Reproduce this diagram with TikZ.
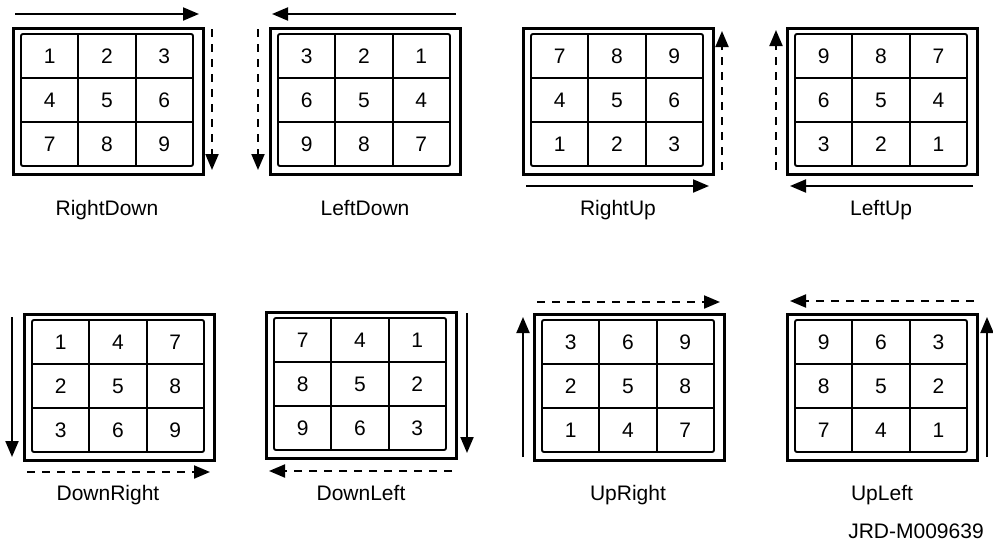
\documentclass[tikz,border=0pt]{standalone}
\usepackage{fontspec}
\setmainfont{Liberation Sans}
\usetikzlibrary{arrows.meta}
\tikzset{
  outerbox/.style={draw, line width=3pt, minimum width=190pt, minimum height=146pt, inner sep=0pt, anchor=north west},
  gridline/.style={line width=1.9pt},
  cell/.style={inner sep=0pt, font=\fontsize{21}{21}\selectfont},
  solidarrow/.style={line width=2pt, -{Triangle[length=16pt,width=13pt]}},
  dasharrow/.style={solidarrow, dash pattern=on 8pt off 7pt},
  caption/.style={anchor=base, inner sep=0pt, font=\fontsize{21}{24}\selectfont},
}
\newcommand{\gridpanel}[4]{%
  \node[outerbox] (#1) at (#2,#3) {};
  \draw[gridline, rounded corners=2pt] (#2+9,#3+7) rectangle ++(172,132);
  \draw[gridline] (#2+9+57.33,#3+7) -- ++(0,132)
                  (#2+9+114.67,#3+7) -- ++(0,132)
                  (#2+9,#3+7+44) -- ++(172,0)
                  (#2+9,#3+7+88) -- ++(172,0);
  \foreach \d [count=\k from 0] in {#4} {
    \pgfmathtruncatemacro\rr{int(\k/3)}
    \pgfmathtruncatemacro\cc{mod(\k,3)}
    \node[cell] (#1-\d) at (#2+9+28.67+57.33*\cc, #3+7+22.5+44*\rr) {\d};
  }
}
\begin{document}
\begin{tikzpicture}[x=1pt,y=-1pt]
\useasboundingbox (0,0) rectangle (993,544);
\fill[white] (0,0) rectangle (993,544);

% Row 1
\gridpanel{rd}{12}{27}{1,2,3,4,5,6,7,8,9}
\gridpanel{ld}{269}{27}{3,2,1,6,5,4,9,8,7}
\gridpanel{ru}{522}{27}{7,8,9,4,5,6,1,2,3}
\gridpanel{lu}{786}{27}{9,8,7,6,5,4,3,2,1}
% Row 2
\gridpanel{dr}{23}{313}{1,4,7,2,5,8,3,6,9}
\gridpanel{dl}{265}{311}{7,4,1,8,5,2,9,6,3}
\gridpanel{ur}{533}{313}{3,6,9,2,5,8,1,4,7}
\gridpanel{ul}{786}{313}{9,6,3,8,5,2,7,4,1}

% arrow end points
\coordinate (rd-s1) at (15,14);   \coordinate (rd-s2) at (199,14);
\coordinate (rd-d1) at (212,29);  \coordinate (rd-d2) at (212,170);
\coordinate (ld-s1) at (456,14);  \coordinate (ld-s2) at (272,14);
\coordinate (ld-d1) at (258,29);  \coordinate (ld-d2) at (258,170);
\coordinate (ru-s1) at (526,186); \coordinate (ru-s2) at (709,186);
\coordinate (ru-d1) at (722,170); \coordinate (ru-d2) at (722,31);
\coordinate (lu-s1) at (973,186); \coordinate (lu-s2) at (790,186);
\coordinate (lu-d1) at (776,170); \coordinate (lu-d2) at (776,30);
\coordinate (dr-s1) at (12,317);  \coordinate (dr-s2) at (12,457);
\coordinate (dr-d1) at (27,472);  \coordinate (dr-d2) at (210,472);
\coordinate (dl-s1) at (467,313); \coordinate (dl-s2) at (467,453);
\coordinate (dl-d1) at (452,471); \coordinate (dl-d2) at (269,471);
\coordinate (ur-s1) at (523,457); \coordinate (ur-s2) at (523,317);
\coordinate (ur-d1) at (537,302); \coordinate (ur-d2) at (720,302);
\coordinate (ul-s1) at (987,457); \coordinate (ul-s2) at (987,317);
\coordinate (ul-d1) at (974,301); \coordinate (ul-d2) at (790,301);

\foreach \p in {rd,ld,ru,lu,dr,dl,ur,ul} {
  \draw[solidarrow] (\p-s1) -- (\p-s2);
  \draw[dasharrow] (\p-d1) -- (\p-d2);
}

% captions
\node[caption] (t-rd) at (107,215) {RightDown};
\node[caption] (t-ld) at (365,215) {LeftDown};
\node[caption] (t-ru) at (618,215) {RightUp};
\node[caption] (t-lu) at (881,215) {LeftUp};
\node[caption] (t-dr) at (108,500) {DownRight};
\node[caption] (t-dl) at (361,500) {DownLeft};
\node[caption] (t-ur) at (628,500) {UpRight};
\node[caption] (t-ul) at (882,500) {UpLeft};
\node[caption] (t-id) at (916,538) {JRD-M009639};
\end{tikzpicture}
\end{document}
